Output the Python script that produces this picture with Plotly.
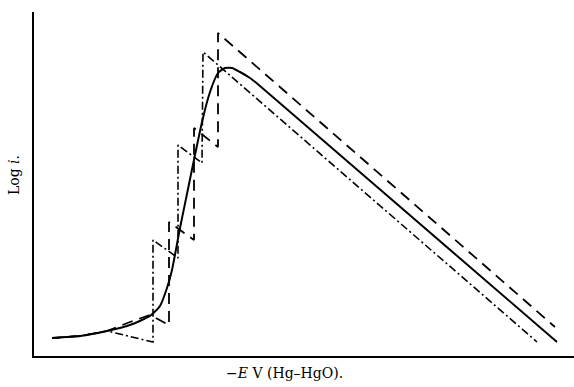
import plotly.graph_objects as go

# Potential axis (-E, arbitrary units) and log current for each curve
solid_e = [18, 46, 73, 96, 116, 126, 133, 138, 146, 154, 161, 168, 176, 184, 191, 198, 206, 216, 226, 523]
solid_logi = [18, 20, 25, 31, 40, 50, 68, 86, 128, 167, 201, 234, 264, 283, 288, 288, 284, 278, 270, 14]

dash_e = [18, 46, 73, 96, 116, 135, 135, 160, 160, 184, 184, 521]
dash_logi = [18, 20, 25, 34, 41, 31, 134, 116, 228, 209, 323, 29]

dashdot_e = [18, 46, 73, 119, 119, 144, 144, 168, 169, 503]
dashdot_logi = [18, 20, 25, 14, 116, 98, 211, 193, 304, 14]

x_title = "\u2212<i>E</i> V (Hg\u2013HgO)."
y_title = "Log <i>i</i>."

fig = go.Figure()
fig.add_trace(go.Scatter(x=dash_e, y=dash_logi, mode="lines",
                         line=dict(color="black", width=1.8, dash="11px,7px"),
                         hoverinfo="skip"))
fig.add_trace(go.Scatter(x=dashdot_e, y=dashdot_logi, mode="lines",
                         line=dict(color="black", width=1.6, dash="8px,3px,2px,3px"),
                         hoverinfo="skip"))
fig.add_trace(go.Scatter(x=solid_e, y=solid_logi, mode="lines",
                         line=dict(color="black", width=2, shape="spline", smoothing=0.5),
                         hoverinfo="skip"))

font_serif = "DejaVu Serif, serif"
fig.update_layout(
    width=574, height=387,
    margin=dict(l=34, r=0, t=12, b=31),
    paper_bgcolor="white", plot_bgcolor="white",
    showlegend=False,
    font=dict(family=font_serif, size=14, color="black"),
    xaxis=dict(range=[0, 540], showline=True, linecolor="black", linewidth=2,
               showgrid=False, zeroline=False, showticklabels=False, ticks=""),
    yaxis=dict(range=[0, 344], showline=True, linecolor="black", linewidth=2,
               showgrid=False, zeroline=False, showticklabels=False, ticks=""),
    annotations=[
        dict(text=x_title, xref="paper", yref="paper", x=0.463, y=-0.05,
             xanchor="center", yanchor="middle", showarrow=False,
             font=dict(family=font_serif, size=14)),
        dict(text=y_title, xref="paper", yref="paper", x=-0.037, y=0.526,
             xanchor="center", yanchor="middle", showarrow=False, textangle=-90,
             font=dict(family=font_serif, size=14)),
    ],
)

fig.write_html("out.html")
